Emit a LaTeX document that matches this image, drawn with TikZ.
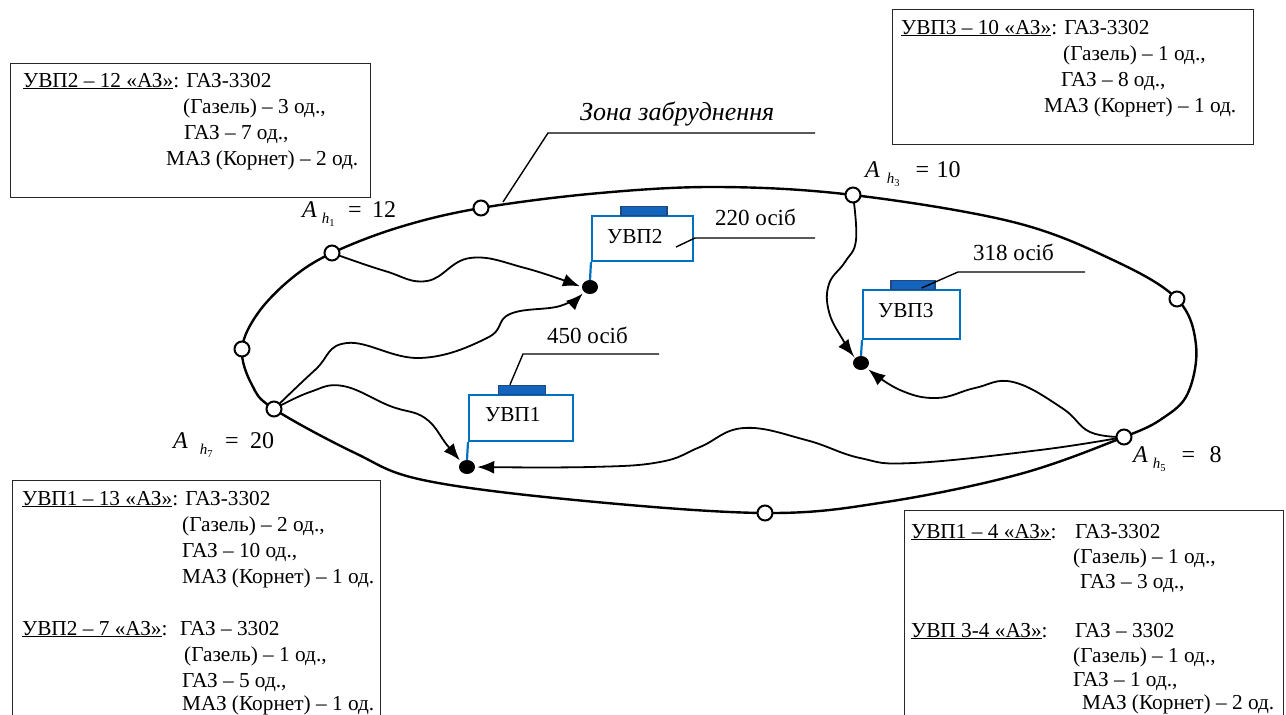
\documentclass[tikz,border=0pt]{standalone}
\usepackage{fontspec}
\setmainfont{Liberation Serif}
\usetikzlibrary{arrows.meta,shapes.geometric}
\pgfdeclarelayer{bg}
\pgfsetlayers{bg,main}
\definecolor{uvblue}{RGB}{0,112,192}
\definecolor{roofblue}{RGB}{20,100,190}
\definecolor{roofedge}{RGB}{31,73,125}
\newcommand{\Ahlab}[5]{\textit{A}\hspace{#2}\raisebox{-6pt}{\fontsize{15}{15}\selectfont\textit{h}\raisebox{-3.5pt}{\fontsize{10.5}{10.5}\selectfont #1}}\hspace{#3}=\hspace{#4}#5}
\begin{document}
\begin{tikzpicture}[x=1pt,y=-1pt,
  txt/.style={anchor=base west, inner sep=0pt, font=\fontsize{21.3}{25}\selectfont},
  lbl/.style={anchor=base west, inner sep=0pt, font=\fontsize{23}{27}\selectfont},
  alb/.style={anchor=base west, inner sep=0pt, font=\fontsize{24}{28}\selectfont},
  ring/.style={circle, draw, fill=white, line width=2pt, minimum size=15pt, inner sep=0pt},
  dotn/.style={ellipse, fill=black, minimum width=16pt, minimum height=14pt, inner sep=0pt},
  conn/.style={line width=1.8pt, -{Latex[length=17pt,width=13pt]}, shorten >=2pt},
  ubox/.style={draw=uvblue, line width=2.2pt, inner sep=0pt},
  roof/.style={fill=roofblue, draw=roofedge, line width=1.2pt, inner sep=0pt},
  leader/.style={line width=1.4pt},
  infobox/.style={draw=black!85, line width=1.2pt, inner sep=0pt},
  zone/.style={line width=2.4pt}]
\useasboundingbox (0,0) rectangle (1286,715);

% info boxes
\node[infobox, anchor=north west, minimum width=360pt, minimum height=134pt] (b1) at (10,63) {};
\node[infobox, anchor=north west, minimum width=361pt, minimum height=135pt] (b2) at (892,9) {};
\node[infobox, anchor=north west, minimum width=368pt, minimum height=260pt] (b3) at (12,480) {};
\node[infobox, anchor=north west, minimum width=379pt, minimum height=230pt] (b4) at (904,510) {};

\node[txt] (t1a) at (23,87) {\underline{УВП2 – 12 «АЗ»}: ГАЗ-3302};
\node[txt] (t1b) at (183,113) {(Газель) – 3 од.,};
\node[txt] (t1c) at (184,139) {ГАЗ – 7 од.,};
\node[txt] (t1d) at (166,165) {МАЗ (Корнет) – 2 од.};

\node[txt] (t2a) at (901,34) {\underline{УВП3 – 10 «АЗ»}: ГАЗ-3302};
\node[txt] (t2b) at (1063,60) {(Газель) – 1 од.,};
\node[txt] (t2c) at (1061,86) {ГАЗ – 8 од.,};
\node[txt] (t2d) at (1044,112) {МАЗ (Корнет) – 1 од.};

\node[txt] (t3a) at (22,505) {\underline{УВП1 – 13 «АЗ»}: ГАЗ-3302};
\node[txt] (t3b) at (182,531) {(Газель) – 2 од.,};
\node[txt] (t3c) at (182,557) {ГАЗ – 10 од.,};
\node[txt] (t3d) at (182,583) {МАЗ (Корнет) – 1 од.};
\node[txt] (t3e) at (22,635) {\underline{УВП2 – 7 «АЗ»}:};
\node[txt] (t3f) at (180,635) {ГАЗ – 3302};
\node[txt] (t3g) at (184,661) {(Газель) – 1 од.,};
\node[txt] (t3h) at (182,687) {ГАЗ – 5 од.,};
\node[txt] (t3i) at (182,710) {МАЗ (Корнет) – 1 од.};

\node[txt] (t4a) at (911,538) {\underline{УВП1 – 4 «АЗ»}:};
\node[txt] (t4b) at (1075,538) {ГАЗ-3302};
\node[txt] (t4c) at (1073,563) {(Газель) – 1 од.,};
\node[txt] (t4d) at (1080,588) {ГАЗ – 3 од.,};
\node[txt] (t4e) at (911,637) {\underline{УВП 3-4 «АЗ»}:};
\node[txt] (t4f) at (1075,637) {ГАЗ – 3302};
\node[txt] (t4g) at (1073,662) {(Газель) – 1 од.,};
\node[txt] (t4h) at (1073,686) {ГАЗ – 1 од.,};
\node[txt] (t4i) at (1082,709) {МАЗ (Корнет) – 2 од.};

% rings on the zone boundary
\node[ring] (h1) at (332,253) {};
\node[ring] (c2) at (481,208) {};
\node[ring] (h3) at (853,195) {};
\node[ring] (c4) at (1177,299) {};
\node[ring] (h5) at (1124,437) {};
\node[ring] (c6) at (765,513) {};
\node[ring] (h7) at (274,409) {};
\node[ring] (c8) at (242,349) {};
\coordinate (zl) at (503,202);

% gathering points
\node[dotn] (d2) at (590,287) {};
\node[dotn] (d3) at (861,363) {};
\node[dotn] (d1) at (467,467) {};

% zone boundary and routes
\begin{pgfonlayer}{bg}
\draw[zone] plot[smooth cycle, tension=0.6] coordinates {
 (h1) (400,227) (c2) (600,193) (720,187) (h3) (1013,222) (1113,260) (c4)
 (1196,345) (1188,393) (1163,418) (h5) (1020,474) (886,502) (c6) (575,500)
 (423,480) (355,453) (h7) (252,385) (c8) (258,313) (292,278)};
\draw[conn] plot[smooth, tension=0.7] coordinates {(h1) (385,271) (427,281) (470,258) (525,268) (d2.west)};
\draw[conn] plot[smooth, tension=0.7] coordinates {(h7) (315,370) (347,343) (420,358) (487,338) (510,314) (560,306) (d2.south west)};
\draw[conn] plot[smooth, tension=0.7] coordinates {(h7) (310,392) (343,386) (390,406) (425,418) (447,445) (d1.north west)};
\draw[conn] plot[smooth, tension=0.7] coordinates {(h3) (856,240) (845,262) (829,284) (829,312) (843,340) (d3.north west)};
\draw[conn] plot[smooth, tension=0.7] coordinates {(h5) (1090,432) (1062,408) (1013,382) (975,388) (937,398) (900,390) (d3.south east)};
\draw[conn] plot[smooth, tension=0.7] coordinates {(h5) (1040,450) (913,463) (860,458) (806,440) (744,428) (700,447) (660,462) (590,467) (d1.east)};
\end{pgfonlayer}

% shelters
\node[ubox, anchor=north west, minimum width=101pt, minimum height=45pt] (u2) at (591,215) {};
\node[roof, anchor=south, minimum width=46pt, minimum height=9pt] (r2) at (644,216) {};
\node[anchor=west, inner sep=0pt, font=\fontsize{21.3}{25}\selectfont] (u2t) at (607,237) {УВП2};
\draw[draw=uvblue, line width=2.2pt] (u2.south west) -- (d2.north);

\node[ubox, anchor=north west, minimum width=97pt, minimum height=49pt] (u3) at (862,289) {};
\node[roof, anchor=south, minimum width=44pt, minimum height=9pt] (r3) at (913,290) {};
\node[anchor=west, inner sep=0pt, font=\fontsize{21.3}{25}\selectfont] (u3t) at (878,311) {УВП3};
\draw[draw=uvblue, line width=2.2pt] (u3.south west) -- (d3.north);

\node[ubox, anchor=north west, minimum width=104pt, minimum height=46pt] (u1) at (468,394) {};
\node[roof, anchor=south, minimum width=47pt, minimum height=9pt] (r1) at (522,395) {};
\node[anchor=west, inner sep=0pt, font=\fontsize{21.3}{25}\selectfont] (u1t) at (485,415) {УВП1};
\draw[draw=uvblue, line width=2.2pt] (u1.south west) -- (d1.north);

% leaders and labels
\coordinate (l2a) at (676,247);
\coordinate (l2e) at (815,238);
\draw[leader] (l2a) -- (695,238) -- (l2e);
\node[lbl] (p2) at (715,225) {220 осіб};

\coordinate (l3e) at (1085,272);
\draw[leader] (r3.south east) ++(-14,-2) -- (958,272) -- (l3e);
\node[lbl] (p3) at (973,260) {318 осіб};

\coordinate (l1e) at (659,354);
\draw[leader] (r1.north west) ++(12,0) -- (523,354) -- (l1e);
\node[lbl] (p1) at (547,343) {450 осіб};

\coordinate (zle) at (815,133);
\draw[leader] (zl) -- (548,133) -- (zle);
\node[anchor=base west, inner sep=0pt, font=\fontsize{26}{30}\selectfont\itshape] (zt) at (580,120) {Зона забруднення};

\node[alb] (a1) at (302,217) {\Ahlab{1}{5pt}{13.5pt}{10.5pt}{12}};
\node[alb] (a3) at (865,177) {\Ahlab{3}{7pt}{16pt}{7.5pt}{10}};
\node[alb] (a5) at (1133,462) {\Ahlab{5}{5pt}{16pt}{14.5pt}{8}};
\node[alb] (a7) at (173,448) {\Ahlab{7}{12pt}{12.5pt}{11.5pt}{20}};
\end{tikzpicture}
\end{document}
